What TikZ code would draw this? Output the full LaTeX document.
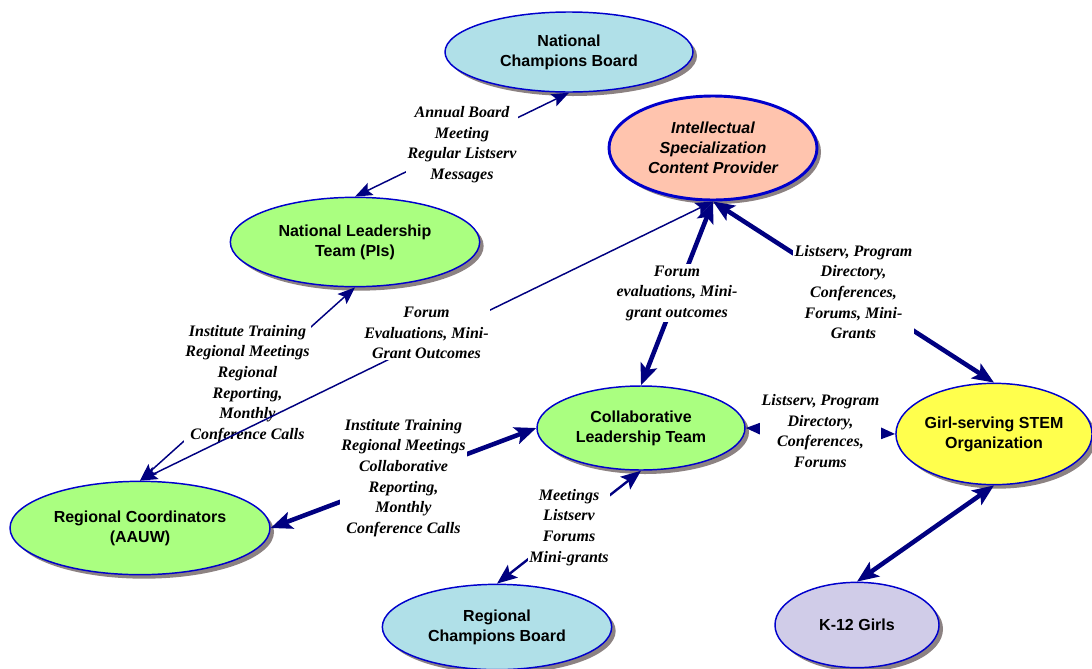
\documentclass[tikz,border=0pt]{standalone}
\usepackage{fontspec}
\setmainfont{Liberation Serif}
\setsansfont{Liberation Sans}
\usetikzlibrary{arrows.meta, shapes, shadows}

\definecolor{rimblue}{RGB}{0,0,204}
\definecolor{linknavy}{RGB}{0,0,128}
\definecolor{boardcyan}{RGB}{176,224,232}
\definecolor{teamgreen}{RGB}{170,255,128}
\definecolor{orgyellow}{RGB}{255,255,77}
\definecolor{girlslilac}{RGB}{208,204,232}
\definecolor{providersalmon}{RGB}{255,196,174}
\definecolor{shadowgray}{RGB}{140,130,130}

\begin{document}
\begin{tikzpicture}[x=0.75pt, y=-0.75pt,
    party/.style={ellipse, draw=rimblue, line width=1.1pt, inner sep=0pt, align=center,
      font=\sffamily\bfseries\fontsize{12}{15}\selectfont,
      drop shadow={shadow xshift=3pt, shadow yshift=-3pt, fill=shadowgray, opacity=1}},
    lbl/.style={fill=white, inner sep=1pt, align=center,
      font=\rmfamily\bfseries\itshape\fontsize{12}{15.5}\selectfont},
    thinlink/.style={draw=linknavy, line width=1.1pt,
      {Stealth[length=13pt,width=10pt,inset=2.5pt]}-{Stealth[length=13pt,width=10pt,inset=2.5pt]}},
    midlink/.style={draw=linknavy, line width=1.8pt,
      {Stealth[length=15pt,width=12pt,inset=3pt]}-{Stealth[length=15pt,width=12pt,inset=3pt]}},
    thicklink/.style={draw=linknavy, line width=3.4pt,
      {Stealth[length=16pt,width=13pt,inset=3.5pt]}-{Stealth[length=16pt,width=13pt,inset=3.5pt]}}]
    \useasboundingbox (0,0) rectangle (1092,668);

    % organisations
    \node[party, fill=boardcyan, minimum width=186pt, minimum height=60pt] (ncb) at (569,52) {National\\Champions Board};
    \node[party, fill=providersalmon, line width=2.2pt, minimum width=156pt, minimum height=78pt,
      font=\sffamily\bfseries\itshape\fontsize{12}{15}\selectfont] (intel) at (713,148) {Intellectual\\Specialization\\Content Provider};
    \node[party, fill=teamgreen, minimum width=187pt, minimum height=67pt] (nlt) at (355,242) {National Leadership\\Team (PIs)};
    \node[party, fill=teamgreen, minimum width=195pt, minimum height=70pt] (rc) at (140,528) {Regional Coordinators\\(AAUW)};
    \node[party, fill=teamgreen, minimum width=156pt, minimum height=63pt] (clt) at (641,428) {Collaborative\\Leadership Team};
    \node[party, fill=orgyellow, minimum width=145pt, minimum height=76pt] (girl) at (994,434) {Girl-serving STEM\\Organization};
    \node[party, fill=girlslilac, minimum width=123pt, minimum height=64pt] (k12) at (857,625) {K-12 Girls};
    \node[party, fill=boardcyan, minimum width=172pt, minimum height=64pt] (rcb) at (497,627) {Regional\\Champions Board};

    % exchanges
    \path (nlt.north) edge[thinlink] node[lbl] {Annual Board\\Meeting\\Regular Listserv\\Messages} (ncb.south)
          (rc.north)  edge[thinlink] node[lbl] {Institute Training\\Regional Meetings\\Regional\\Reporting,\\Monthly\\Conference Calls} (nlt.south)
          (rc.north)  edge[thinlink] node[lbl, yshift=6pt] {Forum\\Evaluations, Mini-\\Grant Outcomes} (intel.south)
          (clt.north) edge[thicklink] node[lbl] {Forum\\evaluations, Mini-\\grant outcomes} (intel.south)
          (girl.north) edge[thicklink] node[lbl] {Listserv, Program\\Directory,\\Conferences,\\Forums, Mini-\\Grants} (intel.south)
          (clt.east)  edge[thicklink] node[lbl] {Listserv, Program\\Directory,\\Conferences,\\Forums} (girl.west)
          (rc.east)   edge[thicklink] node[lbl] {Institute Training\\Regional Meetings\\Collaborative\\Reporting,\\Monthly\\Conference Calls} (clt.west)
          (rcb.north) edge[midlink] node[lbl] {Meetings\\Listserv\\Forums\\Mini-grants} (clt.south)
          (k12.north) edge[thicklink] (girl.south);
\end{tikzpicture}
\end{document}
